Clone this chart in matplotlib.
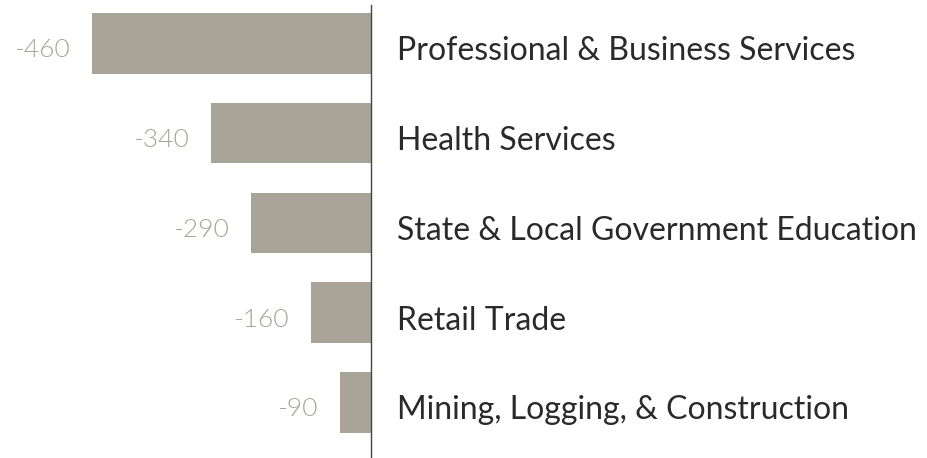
import matplotlib
matplotlib.use("Agg")
import matplotlib.pyplot as plt

# Data
categories = [
    "Professional & Business Services",
    "Health Services",
    "State & Local Government Education",
    "Retail Trade",
    "Mining, Logging, & Construction",
]
values = [-460, -340, -290, -160, -90]          # printed labels
bar_lengths = [-460, -264, -198, -99, -51]      # drawn extent of each bar (same units)

BAR_COLOR = "#a8a498"
VALUE_COLOR = "#a8a498"
TEXT_COLOR = "#2a2a2a"

W, H, DPI = 927, 458, 100
fig = plt.figure(figsize=(W / DPI, H / DPI), dpi=DPI)
fig.patch.set_facecolor("white")

# axes spans from left edge to the vertical zero line
ax = fig.add_axes([0, 0, 371 / W, (458 - 5) / H])
pos = list(range(len(categories)))
ax.barh(pos, bar_lengths, height=0.676, color=BAR_COLOR, edgecolor="none")

ax.set_xlim(-611.7, 0)
ax.set_ylim(4.62, -0.427)
for s in ["top", "left", "bottom"]:
    ax.spines[s].set_visible(False)
ax.spines["right"].set_color("#444444")
ax.spines["right"].set_linewidth(1.0)
ax.set_xticks([])
ax.set_yticks([])
ax.patch.set_alpha(0)

px = 72 / DPI  # points per pixel
for i, (cat, val, bl) in enumerate(zip(categories, values, bar_lengths)):
    ax.annotate(cat, xy=(0, i), xycoords="data",
                xytext=(26 * px, -17 * px), textcoords="offset points",
                ha="left", va="baseline", fontsize=23,
                family=["Lato", "DejaVu Sans"], color=TEXT_COLOR,
                annotation_clip=False)
    ax.annotate(f"{val}", xy=(bl, i), xycoords="data",
                xytext=(-22 * px, -14 * px), textcoords="offset points",
                ha="right", va="baseline", fontsize=19,
                family=["Lato", "DejaVu Sans"], fontweight=300,
                color=VALUE_COLOR, annotation_clip=False)

fig.savefig("out.png", dpi=DPI, facecolor="white")
